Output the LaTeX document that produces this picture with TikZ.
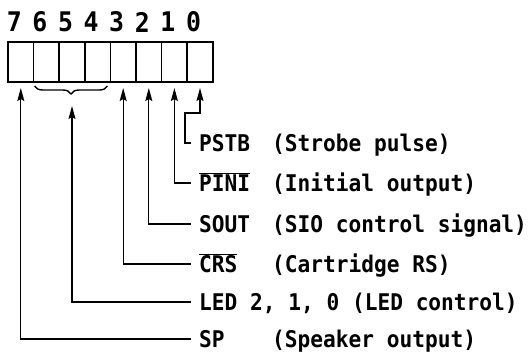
\documentclass[tikz,border=0pt]{standalone}
\usepackage{fontspec}
\setmainfont{DejaVu Sans Mono}[FakeStretch=0.92]
\usetikzlibrary{positioning, arrows.meta, decorations.pathreplacing}

\begin{document}
\begin{tikzpicture}[x=1pt, y=-1pt, font=\fontsize{23}{26}\selectfont\bfseries,
  cell/.style={draw, line width=1.6pt, minimum width=25.6pt, minimum height=40pt, inner sep=0pt, outer sep=0pt},
  bitno/.style={font=\fontsize{27}{29}\selectfont\bfseries, inner sep=0pt},
  sig/.style={anchor=west, inner xsep=8pt, inner ysep=0pt, text height=17pt, text depth=0pt},
  desc/.style={anchor=west, inner sep=0pt, text height=17pt, text depth=0pt},
  feed/.style={line width=1.2pt, -{Stealth[length=13pt, width=7pt, inset=2pt]}}]
\useasboundingbox (0,0) rectangle (530,357);

% port register, bit 7 on the left
\foreach \b [count=\i from 0] in {7,6,5,4,3,2,1,0} {
  \node[cell] (b\b) at (20.8+25.6*\i, 62) {};
  \node[bitno] (n\b) at ([xshift=-6.5pt, yshift=20pt]b\b.north) {\b};
}

\node[sig] (lpstb) at (191,143) {PSTB};
\node[sig] (lpini) at (191,183) {$\overline{\mbox{PINI}}$};
\node[sig] (lsout) at (191,224) {SOUT};
\node[sig] (lcrs) at (191,264) {$\overline{\mbox{CRS}}$};
\node[sig] (lled) at (191,302) {LED 2, 1, 0 (LED control)};
\node[sig] (lsp) at (191,339) {SP};

\node[desc] (dpstb) at (272,143) {(Strobe pulse)};
\node[desc] (dpini) at (272,183) {(Initial output)};
\node[desc] (dsout) at (272,224) {(SIO control signal)};
\node[desc] (dcrs) at (272,264) {(Cartridge RS)};
\node[desc] (dsp) at (272,339) {(Speaker output)};

\draw[line width=1.4pt, decorate, decoration={brace, amplitude=8pt}]
  ([xshift=-3pt, yshift=-4pt]b4.south east) -- ([xshift=1pt, yshift=-4pt]b6.south west);

\draw[feed] (lpstb.west) -- ++(-6,0) |- ([yshift=-31pt]b0.south) -- ([yshift=-6pt]b0.south);
\draw[feed] (lpini.west) -| ([yshift=-6pt]b1.south);
\draw[feed] (lsout.west) -| ([yshift=-6pt]b2.south);
\draw[feed] (lcrs.west) -| ([yshift=-6pt]b3.south);
\draw[feed] (lled.west) -| ([yshift=-24pt]b5.south);
\draw[feed] (lsp.west) -| ([yshift=-6pt]b7.south);
\end{tikzpicture}
\end{document}
